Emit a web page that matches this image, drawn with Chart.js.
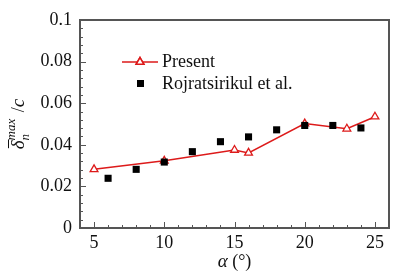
<!DOCTYPE html>
<html>
<head>
<meta charset="utf-8">
<script src="https://cdn.jsdelivr.net/npm/chart.js@4/dist/chart.umd.min.js"></script>
<style>
  html, body { margin: 0; padding: 0; background: #fff; }
  #wrap { width: 406px; height: 271px; }
</style>
</head>
<body>
<div id="wrap"><canvas id="chart"></canvas></div>
<script>
"use strict";

// values
const presentAlpha = [5, 10, 15, 16, 20, 23, 25];
const presentDelta = [0.0282, 0.0323, 0.0375, 0.0361, 0.0502, 0.0477, 0.0535];
const rojAlpha = [6, 8, 10, 12, 14, 16, 18, 20, 22, 24];
const rojDelta = [0.0239, 0.0282, 0.0317, 0.0367, 0.0415, 0.0438, 0.0472, 0.0493, 0.0493, 0.0481];
const xTicks = [5, 10, 15, 20, 25];
const yTicks = [0, 0.02, 0.04, 0.06, 0.08, 0.1];
const yTickLabels = ["0", "0.02", "0.04", "0.06", "0.08", "0.1"];

const red = "#dd1a1a";
const serif = "'Liberation Serif', 'DejaVu Serif', serif";

function toPoints(xs, ys) {
  const pts = [];
  for (let i = 0; i < xs.length; i++) {
    pts.push({ x: xs[i], y: ys[i] });
  }
  return pts;
}

// frame, inward ticks, axis titles and legend
const decor = {
  id: "decor",
  afterDraw(chart) {
    const ctx = chart.ctx;
    const a = chart.chartArea;
    const xs = chart.scales.x;
    const ys = chart.scales.y;
    ctx.save();

    ctx.strokeStyle = "#555";
    ctx.lineWidth = 1;
    ctx.beginPath();
    // x ticks, minor every 1
    for (let v = 4; v <= 26; v++) {
      const px = Math.round(xs.getPixelForValue(v)) + 0.5;
      const len = v % 5 === 0 ? 6 : 3;
      ctx.moveTo(px, a.bottom);
      ctx.lineTo(px, a.bottom - len);
    }
    // y ticks, minor every 0.004
    for (let i = 0; i <= 25; i++) {
      const v = i * 0.004;
      const py = Math.round(ys.getPixelForValue(v)) + 0.5;
      const len = i % 5 === 0 ? 6 : 3;
      ctx.moveTo(a.left, py);
      ctx.lineTo(a.left + len, py);
    }
    ctx.stroke();

    ctx.lineWidth = 2;
    ctx.strokeRect(a.left, a.top, a.right - a.left, a.bottom - a.top);

    ctx.fillStyle = "#111";
    ctx.textBaseline = "alphabetic";

    // x title: alpha (deg)
    const cx = (a.left + a.right) / 2;
    ctx.font = "italic 19px " + serif;
    const wA = ctx.measureText("α").width;
    ctx.font = "18px " + serif;
    const wP = ctx.measureText(" (°)").width;
    let tx = cx - (wA + wP) / 2;
    ctx.font = "italic 19px " + serif;
    ctx.textAlign = "left";
    ctx.fillText("α", tx, 267);
    ctx.font = "18px " + serif;
    ctx.fillText(" (°)", tx + wA, 267);

    // y title: delta_n^max / c, rotated
    ctx.translate(24, 124);
    ctx.rotate(-Math.PI / 2);
    ctx.font = "italic 19px " + serif;
    const wd = ctx.measureText("δ").width;
    ctx.font = "italic 13px " + serif;
    const wm = ctx.measureText("max").width;
    ctx.font = "18px " + serif;
    const wsl = ctx.measureText(" /").width;
    ctx.font = "italic 19px " + serif;
    const wc = ctx.measureText("c").width;
    const total = wd + wm + wsl + wc + 2;
    let px = -total / 2;
    ctx.font = "italic 19px " + serif;
    ctx.fillText("δ", px, 0);
    ctx.lineWidth = 1;
    ctx.strokeStyle = "#111";
    ctx.beginPath();
    ctx.moveTo(px + 1, -15.5);
    ctx.lineTo(px + wd + 1, -15.5);
    ctx.stroke();
    ctx.font = "italic 13px " + serif;
    ctx.fillText("max", px + wd, -9);
    ctx.fillText("n", px + wd, 5);
    px += wd + wm + 2;
    ctx.font = "18px " + serif;
    ctx.fillText(" /", px, 0);
    px += wsl;
    ctx.font = "italic 19px " + serif;
    ctx.fillText("c", px, 0);
    ctx.setTransform(1, 0, 0, 1, 0, 0);

    // legend
    ctx.strokeStyle = red;
    ctx.lineWidth = 1.5;
    ctx.beginPath();
    ctx.moveTo(122, 62);
    ctx.lineTo(158, 62);
    ctx.stroke();
    Chart.helpers.drawPoint(ctx, { pointStyle: "triangle", radius: 4.5, borderWidth: 1.3 }, 140, 62);
    ctx.fillStyle = "#fff";
    ctx.fill();
    ctx.stroke();
    ctx.fillStyle = "#000";
    ctx.fillRect(137, 80, 7, 7);

    ctx.fillStyle = "#111";
    ctx.font = "18px " + serif;
    ctx.textBaseline = "middle";
    ctx.fillText("Present", 162, 62);
    ctx.fillText("Rojratsirikul et al.", 162, 84);
    ctx.restore();
  },
};

const ctx = document.getElementById("chart");
const chart = new Chart(ctx, {
  type: "scatter",
  data: {
    datasets: [
      {
        label: "Present",
        data: toPoints(presentAlpha, presentDelta),
        showLine: true,
        borderColor: red,
        borderWidth: 1.5,
        pointStyle: "triangle",
        pointRadius: 4.5,
        pointBorderWidth: 1.3,
        pointBackgroundColor: "#fff",
        pointBorderColor: red,
        order: 2,
      },
      {
        label: "Rojratsirikul et al.",
        data: toPoints(rojAlpha, rojDelta),
        pointStyle: "rect",
        pointRadius: 5,
        pointBorderWidth: 0,
        pointBackgroundColor: "#000",
        pointBorderColor: "#000",
        order: 1,
      },
    ],
  },
  options: {
    responsive: true,
    maintainAspectRatio: false,
    animation: false,
    layout: { padding: { top: 20, right: 17, left: 0, bottom: 0 } },
    plugins: {
      legend: { display: false },
      tooltip: { enabled: false },
    },
    scales: {
      x: {
        type: "linear",
        min: 4,
        max: 26,
        grid: { display: false, drawTicks: false },
        border: { display: false },
        afterBuildTicks(scale) {
          scale.ticks = xTicks.map((v) => ({ value: v }));
        },
        afterFit(scale) {
          scale.height = 43;
        },
        ticks: {
          padding: 4,
          color: "#111",
          maxRotation: 0,
          font: { family: serif, size: 18 },
        },
      },
      y: {
        min: 0,
        max: 0.1,
        grid: { display: false, drawTicks: false },
        border: { display: false },
        afterBuildTicks(scale) {
          scale.ticks = yTicks.map((v) => ({ value: v }));
        },
        afterFit(scale) {
          scale.width = 80;
        },
        ticks: {
          padding: 8,
          color: "#111",
          font: { family: serif, size: 18 },
          callback: function (value, index) {
            return yTickLabels[index];
          },
        },
      },
    },
  },
  plugins: [decor],
});
</script>
</body>
</html>
